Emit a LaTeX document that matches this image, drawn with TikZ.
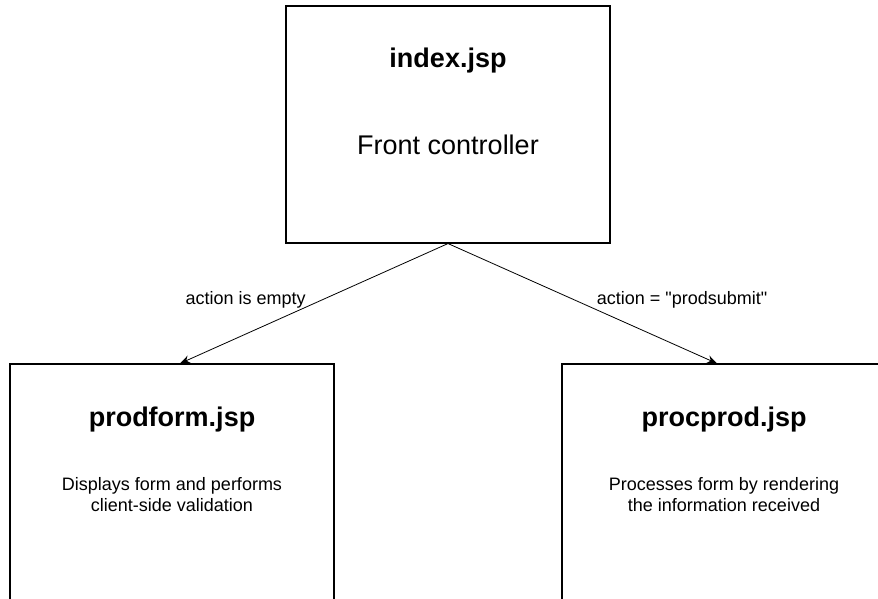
\documentclass[tikz,border=0pt]{standalone}
\usepackage{fontspec}
\setmainfont{Liberation Sans}[Ligatures=TeXOff]
\usepackage{tikz}
\usetikzlibrary{arrows.meta,positioning}
\newcommand{\headsize}{\fontsize{27}{32}\selectfont\bfseries}
\newcommand{\bodysize}{\fontsize{18}{21}\selectfont}
\tikzset{
  >={Stealth[length=10pt,width=8pt]},
  page/.style ={rectangle, draw, line width=1.1pt, inner sep=0pt,
                minimum width=324pt},
  head/.style ={font=\headsize, inner sep=0pt, anchor=base},
  desc/.style ={font=\bodysize, inner sep=0pt, align=center, anchor=base},
  con/.style  ={->, draw, line width=0.8pt},
  lbl/.style  ={font=\bodysize, inner sep=0pt},
}

\begin{document}
\begin{tikzpicture}[x=1pt,y=-1pt]
\useasboundingbox (0,0) rectangle (878,598);
\clip (0,0) rectangle (878,598);

% --- the three pages ------------------------------------------------
\node[page, minimum height=237pt] (idx)  at (448,124.5) {};
\node[page, minimum height=260pt] (form) at (172,494)   {};
\node[page, minimum height=260pt] (proc) at (724,494)   {};

% --- texts inside ----------------------------------------------------
\node[head] (idxname)  at ([yshift=-62pt]idx.north)  {index.jsp};
\node[font=\fontsize{27}{32}\selectfont, inner sep=0pt, anchor=base]
  (idxrole) at ([yshift=-149pt]idx.north) {Front controller};
\node[head] (formname) at ([yshift=-63pt]form.north) {prodform.jsp};
\node[desc] (formrole) at ([yshift=-148pt]form.north)
  {Displays form and performs\\client-side validation};
\node[head] (procname) at ([yshift=-63pt]proc.north) {procprod.jsp};
\node[desc] (procrole) at ([yshift=-148pt]proc.north)
  {Processes form by rendering\\the information received};

% --- flow -------------------------------------------------------------
\coordinate (fork) at (idx.south);
\draw[con] (fork) -- node[lbl, pos=0.47, anchor=east, xshift=-16pt]
  {action is empty} ([xshift=8pt]form.north);
\draw[con] (fork) -- node[lbl, pos=0.47, anchor=west, xshift=22pt]
  {action = "prodsubmit"} ([xshift=-7pt]proc.north);
\end{tikzpicture}
\end{document}
